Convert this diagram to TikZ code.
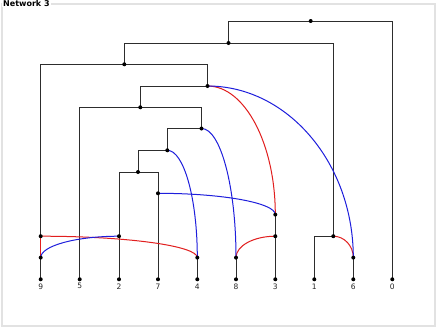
\documentclass[tikz,border=0pt]{standalone}
\usepackage{fontspec}
\setmainfont{DejaVu Sans}
\usetikzlibrary{calc}
\definecolor{netred}{RGB}{225,30,30}
\definecolor{netblue}{RGB}{30,30,220}
\definecolor{framegray}{RGB}{226,226,226}
\definecolor{treeline}{RGB}{45,45,45}
\newcommand\retarc[3]{\draw[#1] (#2) .. controls ($(#2)!0.55!(#2 -| #3)$) and ($(#3)!0.55!(#2 -| #3)$) .. (#3);}
\begin{document}
\begin{tikzpicture}[x=1pt,y=-1pt,
  tree/.style={draw=treeline,line width=1pt},
  redarc/.style={draw=netred,line width=1pt},
  bluearc/.style={draw=netblue,line width=1pt},
  leaflabel/.style={font=\fontsize{7.5}{9}\selectfont,inner sep=0pt,text=black!85},
  dotmark/.style={fill=black}]
\useasboundingbox (0,0) rectangle (436,327);
\fill[white] (0,0) rectangle (436,327);
\draw[framegray,line width=2pt] (2,3.5) rectangle (434.5,325.5);
\node[anchor=base west,font=\bfseries\fontsize{8}{9}\selectfont,fill=white,inner sep=1pt] (title) at (2,6) {Network 3};

% internal points
\coordinate (r) at (310.7,21);
\coordinate (A) at (228.5,43);
\coordinate (B) at (124.3,64.3);
\coordinate (C) at (207.5,86);
\coordinate (D) at (140.3,107.3);
\coordinate (E) at (201.5,128.5);
\coordinate (F) at (167.3,150.3);
\coordinate (G) at (138,172);
\coordinate (H) at (158,193.3);
\coordinate (N9a) at (40.7,236.2);
\coordinate (N9b) at (40.7,257.6);
\coordinate (N2) at (119,236.2);
\coordinate (N4) at (197.3,257.6);
\coordinate (N8) at (236,257.6);
\coordinate (N3a) at (275.3,214.6);
\coordinate (N3b) at (275.3,236.2);
\coordinate (R1) at (333.3,236.2);
\coordinate (N6) at (353.3,257.6);
% leaves
\foreach \n/\x in {9/40.7,5/79.7,2/119,7/158,4/197.3,8/236,3/275.3,1/314.3,6/353.3,0/392.3}{
  \coordinate (L\n) at (\x,279.3);
  \node[leaflabel] (t\n) at (\x,286.3) {\n};
}

% tree edges
\draw[tree] (A) |- (r);
\draw[tree] (r) -| (L0);
\draw[tree] (B) |- (A);
\draw[tree] (A) -| (R1);
\draw[tree] (N9a) |- (B);
\draw[tree] (B) -| (C);
\draw[tree] (D) |- (C);
\draw[tree] (L5) |- (D);
\draw[tree] (D) -| (E);
\draw[tree] (F) |- (E);
\draw[tree] (G) |- (F);
\draw[tree] (N2) |- (G);
\draw[tree] (G) -| (H);
\draw[tree] (H) -- (L7);
\draw[tree] (N9b) -- (L9);
\draw[tree] (N2) -- (L2);
\draw[tree] (N4) -- (L4);
\draw[tree] (N8) -- (L8);
\draw[tree] (N3a) -- (N3b);
\draw[tree] (N3b) -- (L3);
\draw[tree] (L1) |- (R1);
\draw[tree] (N6) -- (L6);

% reticulate edges
\draw[redarc] (N9a) -- (N9b);
\retarc{redarc}{C}{N3a}
\retarc{redarc}{N3b}{N8}
\retarc{redarc}{N9a}{N4}
\retarc{redarc}{R1}{N6}
\retarc{bluearc}{C}{N6}
\retarc{bluearc}{E}{N8}
\retarc{bluearc}{F}{N4}
\retarc{bluearc}{H}{N3a}
\retarc{bluearc}{N2}{N9b}

% dots
\foreach \p in {r,A,B,C,D,E,F,G,H,N9a,N9b,N2,N4,N8,N3a,N3b,R1,N6,L9,L5,L2,L7,L4,L8,L3,L1,L6,L0}{
  \fill[dotmark] (\p) circle (2pt);
}
\end{tikzpicture}
\end{document}
